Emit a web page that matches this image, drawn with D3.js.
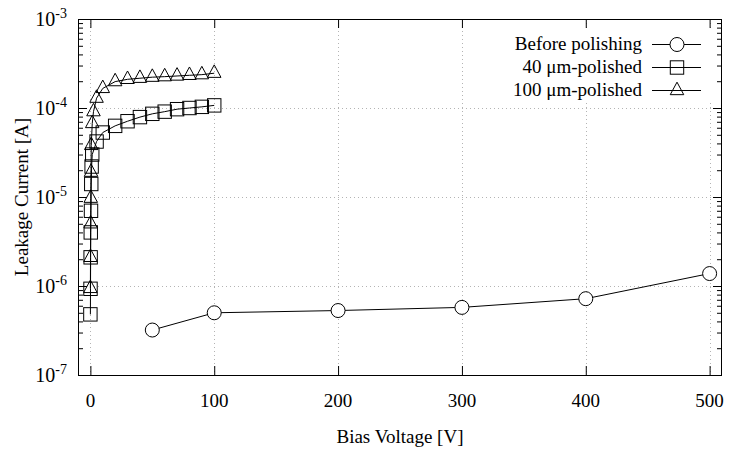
<!DOCTYPE html>
<html><head><meta charset="utf-8">
<script src="https://cdn.jsdelivr.net/npm/d3@7"></script>
<style>
body{margin:0;background:#fff;}
text{font-family:"Liberation Serif","Times New Roman",serif;fill:#000;}
</style></head>
<body><svg id="c" width="750" height="450"></svg>
<script>
// ---- data ----
const xTicks = [0, 100, 200, 300, 400, 500];
const yTickExps = [-7, -6, -5, -4, -3];

const beforeV = [50, 100, 200, 300, 400, 500];
const beforeI = [3.2e-7, 5.0e-7, 5.3e-7, 5.75e-7, 7.2e-7, 1.38e-6];

const p40V = [0, 0.1, 0.2, 0.3, 0.5, 0.7, 1, 1.5, 5, 10, 20, 30, 40, 50, 60, 70, 80, 90, 100];
const p40I = [4.8e-7, 9.3e-7, 2.1e-6, 4.0e-6, 7.0e-6, 1.4e-5, 2.2e-5, 3.0e-5, 4.2e-5, 5.3e-5,
              6.3e-5, 7.1e-5, 7.9e-5, 8.6e-5, 9.1e-5, 9.7e-5, 1.0e-4, 1.03e-4, 1.07e-4];

const p100V = [0, 0.1, 0.2, 0.3, 0.5, 0.7, 1.5, 2.5, 5, 10, 20, 30, 40, 50, 60, 70, 80, 90, 100];
const p100I = [9.4e-7, 2.1e-6, 5.0e-6, 9.7e-6, 1.9e-5, 3.8e-5, 6.7e-5, 9.1e-5, 1.29e-4, 1.66e-4,
               1.98e-4, 2.1e-4, 2.16e-4, 2.22e-4, 2.25e-4, 2.29e-4, 2.33e-4, 2.37e-4, 2.46e-4];

const seriesNames = ["Before polishing", "40 \u03bcm-polished", "100 \u03bcm-polished"];
const xTitle = "Bias Voltage [V]";
const yTitle = "Leakage Current [A]";

// ---- layout ----
const L = 78, R = 722, T = 19, B = 375;
const svg = d3.select("#c");
const x = d3.scaleLinear().domain([-10, 510]).range([L, R]);
const y = d3.scaleLog().domain([1e-7, 1e-3]).range([B, T]);

const majorY = yTickExps.map(e => Math.pow(10, e));
const minorY = [];
for (let e = -7; e < -3; e++) for (let k = 2; k <= 9; k++) minorY.push(k * Math.pow(10, e));

// grid
const grid = svg.append("g").attr("stroke", "#b4b4b4").attr("stroke-width", 1).attr("stroke-dasharray", "1,3");
grid.selectAll("line.gx").data(xTicks).join("line")
  .attr("x1", d => Math.round(x(d)) + 0.5).attr("x2", d => Math.round(x(d)) + 0.5)
  .attr("y1", T).attr("y2", B);
grid.selectAll("line.gy").data(majorY.slice(1, -1)).join("line")
  .attr("y1", d => Math.round(y(d)) + 0.5).attr("y2", d => Math.round(y(d)) + 0.5)
  .attr("x1", L).attr("x2", R);

// axes (ticks inward)
function styleAxis(g) {
  g.select(".domain").remove();
  g.selectAll(".tick line").attr("stroke", "#000").attr("stroke-width", 1);
  g.selectAll(".tick text").remove();
}
svg.append("g").attr("transform", `translate(0,${B})`)
  .call(d3.axisBottom(x).tickValues(xTicks).tickSize(-9)).call(styleAxis);
svg.append("g").attr("transform", `translate(0,${T})`)
  .call(d3.axisTop(x).tickValues(xTicks).tickSize(-9)).call(styleAxis);
svg.append("g").attr("transform", `translate(${L},0)`)
  .call(d3.axisLeft(y).tickValues(majorY).tickSize(-9)).call(styleAxis);
svg.append("g").attr("transform", `translate(${L},0)`)
  .call(d3.axisLeft(y).tickValues(minorY).tickSize(-5)).call(styleAxis);
svg.append("g").attr("transform", `translate(${R},0)`)
  .call(d3.axisRight(y).tickValues(majorY).tickSize(-9)).call(styleAxis);
svg.append("g").attr("transform", `translate(${R},0)`)
  .call(d3.axisRight(y).tickValues(minorY).tickSize(-5)).call(styleAxis);

// tick labels
svg.append("g").selectAll("text").data(xTicks).join("text")
  .attr("x", d => x(d)).attr("y", 407).attr("text-anchor", "middle")
  .attr("font-size", 19).text(d => d);
const yl = svg.append("g").selectAll("text").data(yTickExps).join("text")
  .attr("x", 67).attr("y", d => y(Math.pow(10, d)) + 7).attr("text-anchor", "end")
  .attr("font-size", 20);
yl.append("tspan").text("10");
yl.append("tspan").attr("dy", -8).attr("font-size", 14).text(d => d);

// axis titles
svg.append("text").attr("x", 400).attr("y", 443).attr("text-anchor", "middle")
  .attr("font-size", 19).text(xTitle);
svg.append("text").attr("transform", "translate(28,197) rotate(-90)").attr("text-anchor", "middle")
  .attr("font-size", 19).text(yTitle);

// markers
function marker(g, i, px, py) {
  if (i === 0) {
    g.append("circle").attr("cx", px).attr("cy", py).attr("r", 7)
      .attr("fill", "#fff").attr("stroke", "#000").attr("stroke-width", 1);
  } else if (i === 1) {
    g.append("rect").attr("x", px - 6.7).attr("y", py - 6.7).attr("width", 13.4).attr("height", 13.4)
      .attr("fill", "none").attr("stroke", "#000").attr("stroke-width", 1);
  } else {
    const h = 12.5, w = 13.5;
    g.append("path").attr("d", `M${px},${py - h * 2 / 3}L${px + w / 2},${py + h / 3}L${px - w / 2},${py + h / 3}Z`)
      .attr("fill", "none").attr("stroke", "#000").attr("stroke-width", 1);
  }
}

const series = [[beforeV, beforeI], [p40V, p40I], [p100V, p100I]];
const line = d3.line().x(d => x(d[0])).y(d => y(d[1]));
series.forEach(([vs, is], i) => {
  const pts = vs.map((v, j) => [v, is[j]]);
  const g = svg.append("g");
  g.append("path").attr("d", line(pts)).attr("fill", "none").attr("stroke", "#000").attr("stroke-width", 1);
  pts.forEach(p => marker(g, i, x(p[0]), y(p[1])));
});

// legend
svg.append("rect").attr("x", 500).attr("y", 31).attr("width", 214).attr("height", 70).attr("fill", "#fff");
seriesNames.forEach((n, i) => {
  const ly = 44 + i * 23;
  svg.append("text").attr("x", 642).attr("y", ly + 6).attr("text-anchor", "end")
    .attr("font-size", 19).text(n);
  svg.append("line").attr("x1", 652).attr("x2", 701).attr("y1", ly + 0.5).attr("y2", ly + 0.5)
    .attr("stroke", "#000").attr("stroke-width", 1);
  marker(svg, i, 677, ly + 0.5);
});

// border
svg.append("rect").attr("x", L + 0.5).attr("y", T + 0.5).attr("width", R - L - 1).attr("height", B - T)
  .attr("fill", "none").attr("stroke", "#000").attr("stroke-width", 1);
</script></body></html>
